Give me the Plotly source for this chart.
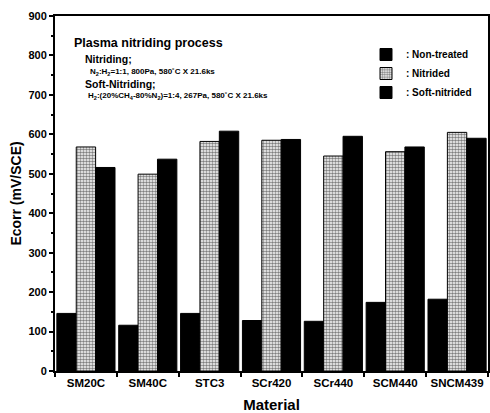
import plotly.graph_objects as go

# Corrosion potential of steels before and after plasma treatment
materials = ["SM20C", "SM40C", "STC3", "SCr420", "SCr440", "SCM440", "SNCM439"]
non_treated = [146, 116, 146, 128, 126, 174, 182]
nitrided = [568, 499, 582, 585, 545, 556, 605]
soft_nitrided = [516, 537, 608, 587, 595, 568, 590]

FONT = "Liberation Sans, Arial, sans-serif"
W, H = 490, 413
L, R, T, B = 55, 2, 16, 42
PW, PH = W - L - R, H - T - B


def px(x):
    return (x - L) / PW


def py(y):
    return (H - B - y) / PH


fig = go.Figure()
fig.add_bar(
    x=materials, y=non_treated, name=": Non-treated",
    marker=dict(color="black", line=dict(color="black", width=1)),
)
fig.add_bar(
    x=materials, y=nitrided, name=": Nitrided",
    marker=dict(
        color="white",
        line=dict(color="black", width=1),
        pattern=dict(shape=".", fgcolor="black", bgcolor="white", size=3, solidity=0.55),
    ),
)
fig.add_bar(
    x=materials, y=soft_nitrided, name=": Soft-nitrided",
    marker=dict(color="black", line=dict(color="black", width=1)),
)

bold = dict(family=FONT, color="black", weight="bold")

notes = [
    ("Plasma nitriding process", 72, 43, 12.5),
    ("Nitriding;", 83, 59, 10.5),
    ("N<sub>2</sub>:H<sub>2</sub>=1:1, 800Pa, 580˚C X 21.6ks", 88, 72, 8),
    ("Soft-Nitriding;", 83, 84, 10.5),
    ("H<sub>2</sub>:(20%CH<sub>4</sub>-80%N<sub>2</sub>)=1:4, 267Pa, 580˚C X 21.6ks", 86, 96, 8),
]
for text, x, y, size in notes:
    fig.add_annotation(
        text=text, xref="paper", yref="paper", x=px(x), y=py(y),
        xanchor="left", yanchor="middle", showarrow=False,
        font=dict(bold, size=size),
    )

fig.update_layout(
    width=W, height=H,
    margin=dict(l=L, r=R, t=T, b=B, autoexpand=False),
    paper_bgcolor="white", plot_bgcolor="white",
    barmode="group", bargap=0.06, bargroupgap=0,
    font=dict(bold, size=12),
    legend=dict(
        x=px(366), y=py(40), xanchor="left", yanchor="top",
        font=dict(bold, size=10), bgcolor="rgba(0,0,0,0)",
        tracegroupgap=0,
    ),
    xaxis=dict(
        type="category", tickson="boundaries", tickangle=0, automargin=False,
        showline=True, linecolor="black", linewidth=2, mirror=True,
        ticks="outside", ticklen=4, tickwidth=1.5, tickcolor="black",
        showgrid=False, tickfont=dict(bold, size=11.5),
        title=dict(text="Material", font=dict(bold, size=15), standoff=12),
    ),
    yaxis=dict(
        range=[0, 900], dtick=100, automargin=False,
        showline=True, linecolor="black", linewidth=2, mirror=True,
        ticks="outside", ticklen=4, tickwidth=1.5, tickcolor="black",
        minor=dict(dtick=50, ticks="outside", ticklen=2, tickcolor="black"),
        showgrid=False, zeroline=False, tickfont=dict(bold, size=11),
        title=dict(text="Ecorr (mV/SCE)", font=dict(bold, size=14), standoff=4),
    ),
)

fig.write_html("out.html")
